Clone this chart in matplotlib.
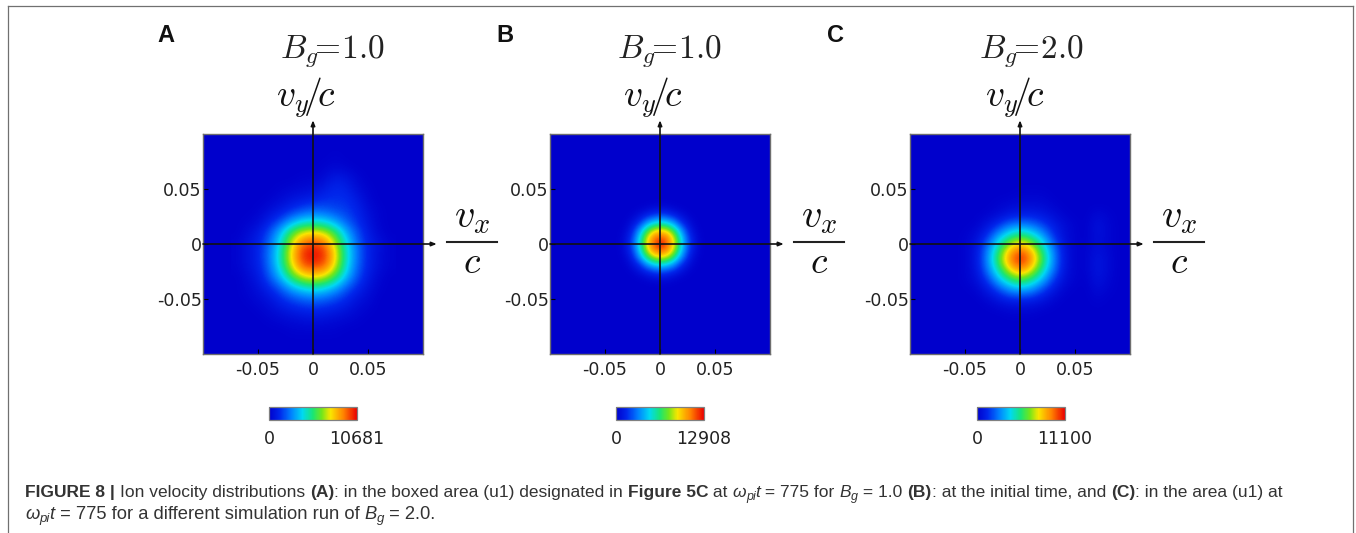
import numpy as np
import matplotlib
matplotlib.use("Agg")
import matplotlib.pyplot as plt
from matplotlib.colors import LinearSegmentedColormap

W, H = 1356, 533
plt.rcParams['mathtext.fontset'] = 'cm'

panel_letters = ["A", "B", "C"]
panel_titles = ["$B_g\\!\\!=\\!1.0$", "$B_g\\!\\!=\\!1.0$", "$B_g\\!\\!=\\!2.0$"]
max_counts = [10681, 12908, 11100]
ticks = [-0.05, 0, 0.05]
tick_labels = ["-0.05", "0", "0.05"]

# Distribution values, percent of each panel's maximum.
vx_a = [-0.07, -0.06, -0.05, -0.04, -0.03, -0.02, -0.01, 0, 0.01, 0.02, 0.03, 0.04, 0.05, 0.06, 0.07]
vy_a = [0.09, 0.08, 0.07, 0.06, 0.05, 0.04, 0.03, 0.02, 0.01, 0, -0.01, -0.02, -0.03, -0.04, -0.05, -0.06, -0.07, -0.08, -0.09]
dist_a = [
    [0, 0, 0, 0, 0, 0, 0, 0, 0, 0, 0, 0, 0, 0, 0],
    [0, 0, 0, 0, 0, 0, 0, 0, 0, 1, 0, 0, 0, 0, 0],
    [0, 0, 0, 0, 0, 0, 0, 0, 1, 2, 1, 0, 0, 0, 0],
    [0, 0, 0, 0, 0, 0, 1, 1, 3, 8, 6, 2, 0, 0, 0],
    [0, 0, 0, 0, 1, 2, 3, 4, 8, 12, 10, 4, 1, 0, 0],
    [0, 0, 0, 1, 3, 6, 8, 10, 13, 13, 13, 8, 2, 0, 0],
    [0, 0, 1, 4, 8, 13, 18, 21, 20, 17, 15, 11, 4, 1, 0],
    [0, 1, 3, 10, 18, 30, 38, 40, 38, 30, 20, 13, 6, 1, 0],
    [0, 3, 8, 18, 34, 55, 68, 72, 67, 53, 32, 18, 8, 2, 0],
    [1, 5, 10, 22, 40, 67, 88, 93, 88, 65, 40, 21, 10, 5, 1],
    [1, 5, 11, 24, 44, 72, 95, 100, 95, 72, 42, 23, 10, 4, 1],
    [1, 5, 10, 23, 42, 68, 90, 94, 90, 68, 41, 21, 10, 4, 1],
    [0, 3, 8, 19, 34, 54, 68, 73, 68, 54, 34, 18, 8, 2, 0],
    [0, 2, 5, 12, 20, 32, 40, 44, 40, 32, 20, 12, 5, 1, 0],
    [0, 1, 3, 6, 12, 17, 21, 23, 21, 17, 12, 6, 3, 0, 0],
    [0, 0, 1, 3, 6, 9, 11, 12, 11, 9, 6, 3, 1, 0, 0],
    [0, 0, 0, 1, 2, 3, 4, 5, 4, 3, 2, 1, 0, 0, 0],
    [0, 0, 0, 0, 0, 1, 1, 1, 1, 1, 0, 0, 0, 0, 0],
    [0, 0, 0, 0, 0, 0, 0, 0, 0, 0, 0, 0, 0, 0, 0],
]

vx_b = [-0.042, -0.036, -0.03, -0.024, -0.018, -0.012, -0.006, 0, 0.006, 0.012, 0.018, 0.024, 0.03, 0.036, 0.042]
vy_b = [0.042, 0.036, 0.03, 0.024, 0.018, 0.012, 0.006, 0, -0.006, -0.012, -0.018, -0.024, -0.03, -0.036, -0.042]
dist_b = [
    [0, 0, 0, 0, 0, 0, 0, 0, 0, 0, 0, 0, 0, 0, 0],
    [0, 0, 0, 0, 0, 0.5, 1, 1, 1, 0.5, 0, 0, 0, 0, 0],
    [0, 0, 0, 0.5, 2, 4, 7, 8, 7, 4, 2, 0.5, 0, 0, 0],
    [0, 0, 0.5, 3, 8, 15, 20, 23, 20, 15, 8, 3, 0.5, 0, 0],
    [0, 0, 2, 8, 18, 32, 41, 45, 41, 32, 18, 8, 2, 0, 0],
    [0, 0.5, 4, 15, 32, 52, 67, 72, 67, 52, 32, 15, 4, 0.5, 0],
    [0, 1, 7, 20, 41, 67, 84, 88, 84, 67, 41, 20, 7, 1, 0],
    [0, 1, 8, 23, 45, 72, 88, 100, 88, 72, 45, 23, 8, 1, 0],
    [0, 1, 7, 20, 41, 67, 84, 88, 84, 67, 41, 20, 7, 1, 0],
    [0, 0.5, 4, 15, 32, 52, 67, 72, 67, 52, 32, 15, 4, 0.5, 0],
    [0, 0, 2, 8, 18, 32, 41, 45, 41, 32, 18, 8, 2, 0, 0],
    [0, 0, 0.5, 3, 8, 15, 20, 23, 20, 15, 8, 3, 0.5, 0, 0],
    [0, 0, 0, 0.5, 2, 4, 7, 8, 7, 4, 2, 0.5, 0, 0, 0],
    [0, 0, 0, 0, 0, 0.5, 1, 1, 1, 0.5, 0, 0, 0, 0, 0],
    [0, 0, 0, 0, 0, 0, 0, 0, 0, 0, 0, 0, 0, 0, 0],
]

vx_c = [-0.06, -0.05, -0.04, -0.03, -0.02, -0.01, 0, 0.01, 0.02, 0.03, 0.04, 0.05, 0.06, 0.07, 0.08, 0.09]
vy_c = [0.057, 0.047, 0.037, 0.027, 0.017, 0.007, -0.003, -0.013, -0.023, -0.033, -0.043, -0.053, -0.063, -0.073]
dist_c = [
    [0, 0, 0, 0, 0, 0, 0, 0, 0, 0, 0, 0, 0, 0, 0, 0],
    [0, 0, 0, 0, 0, 0, 1, 1, 1, 0, 0, 0, 0, 0, 0, 0],
    [0, 0, 0, 0, 1, 2, 3, 3, 3, 1, 0, 0, 0, 0, 0, 0],
    [0, 0, 0, 1, 3, 7, 9, 9, 7, 4, 1, 0, 0, 3, 1, 0],
    [0, 0, 1, 6, 14, 24, 27, 24, 17, 9, 4, 1, 0, 6, 2, 0],
    [0, 1, 4, 14, 32, 46, 55, 46, 32, 14, 4, 1, 0, 5, 2, 0],
    [0, 1, 6, 24, 46, 71, 85, 71, 46, 24, 6, 1, 1, 5, 2, 0],
    [0, 1, 7, 27, 55, 85, 100, 85, 55, 27, 7, 1, 1, 7, 3, 0],
    [0, 1, 6, 24, 46, 71, 85, 71, 46, 24, 6, 1, 1, 7, 3, 0],
    [0, 1, 4, 14, 32, 46, 55, 46, 32, 14, 4, 1, 0, 6, 2, 0],
    [0, 0, 1, 6, 14, 24, 27, 24, 14, 6, 1, 0, 0, 3, 1, 0],
    [0, 0, 0, 1, 4, 6, 7, 6, 4, 1, 0, 0, 0, 1, 0, 0],
    [0, 0, 0, 0, 0, 1, 1, 1, 0, 0, 0, 0, 0, 0, 0, 0],
    [0, 0, 0, 0, 0, 0, 0, 0, 0, 0, 0, 0, 0, 0, 0, 0],
]

grids = [(vx_a, vy_a, dist_a), (vx_b, vy_b, dist_b), (vx_c, vy_c, dist_c)]

cmap = LinearSegmentedColormap.from_list("rb", [
    (0.00, (0.0, 0.0, 0.80)),
    (0.12, (0.0, 0.15, 0.92)),
    (0.25, (0.0, 0.50, 1.00)),
    (0.38, (0.0, 0.85, 0.95)),
    (0.50, (0.10, 0.90, 0.45)),
    (0.60, (0.45, 0.90, 0.10)),
    (0.70, (0.98, 0.90, 0.0)),
    (0.85, (1.0, 0.50, 0.0)),
    (1.00, (0.92, 0.0, 0.0)),
], N=256)

fig = plt.figure(figsize=(W / 100, H / 100), dpi=100, facecolor="white")


def fx(x):
    return x / W


def fy(y):
    return 1 - y / H


def px_axes(x0, y0, x1, y1):
    return fig.add_axes([fx(x0), fy(y1), (x1 - x0) / W, (y1 - y0) / H])


GRAY = "#6e6e6e"
# outer frame
for xs, ys in [((8, 8), (533, 6)), ((8, 1353), (6, 6)), ((1353, 1353), (6, 533))]:
    fig.add_artist(plt.Line2D([fx(v) for v in xs], [fy(v) for v in ys], color="#707070", lw=0.9))

panel_x = [203, 550, 910]
letter_x = [157, 496, 827]
cbar_x = [269, 616, 977]
title_x = [332, 669, 1031]
vy_x = [306, 653, 1015]

for i in range(3):
    x0 = panel_x[i]
    ax = px_axes(x0, 134, x0 + 220, 354)
    vx, vy, dist = grids[i]
    vals = np.array(dist, dtype=float) * max_counts[i] / 100
    dx = abs(vx[1] - vx[0])
    dy = abs(vy[1] - vy[0])
    ax.set_facecolor(cmap(0.0))
    im = ax.imshow(vals, cmap=cmap, vmin=0, vmax=max_counts[i], interpolation="bicubic",
                   origin="upper", aspect="auto",
                   extent=[vx[0] - dx / 2, vx[-1] + dx / 2, vy[-1] - dy / 2, vy[0] + dy / 2])
    ax.set_xlim(-0.1, 0.1)
    ax.set_ylim(-0.1, 0.1)
    ax.set_xticks(ticks, tick_labels)
    ax.set_yticks(ticks, tick_labels)
    ax.tick_params(direction="in", length=3.5, width=0.8, labelsize=12.5, pad=1,
                   colors="black", labelcolor="#222222")
    ax.tick_params(axis="x", pad=5)
    for s in ax.spines.values():
        s.set_color(GRAY)
        s.set_linewidth(1.0)

    ax.annotate("", xy=(0.1125, 0), xytext=(-0.1, 0), xycoords="data", annotation_clip=False,
                arrowprops=dict(arrowstyle="-|>,head_length=0.3,head_width=0.12", lw=1.2,
                                color="#111111", shrinkA=0, shrinkB=0))
    ax.annotate("", xy=(0, 0.1125), xytext=(0, -0.1), xycoords="data", annotation_clip=False,
                arrowprops=dict(arrowstyle="-|>,head_length=0.3,head_width=0.12", lw=1.2,
                                color="#111111", shrinkA=0, shrinkB=0))

    fig.text(fx(letter_x[i]), fy(42), panel_letters[i], family="Liberation Sans",
             weight="bold", fontsize=17, color="#111111", ha="left", va="baseline")
    fig.text(fx(title_x[i]), fy(57), panel_titles[i], fontsize=24, color="#222222",
             ha="center", va="baseline")
    fig.text(fx(vy_x[i]), fy(107), "$v_y\\!/\\!c$", fontsize=27, color="#111111",
             ha="center", va="baseline")

    fc = x0 + 269
    fig.text(fx(fc), fy(227), "$v_x$", fontsize=29, color="#111111", ha="center", va="baseline")
    fig.text(fx(fc), fy(273), "$c$", fontsize=27, color="#111111", ha="center", va="baseline")
    fig.add_artist(plt.Line2D([fx(fc - 25), fx(fc + 25)], [fy(241.5), fy(241.5)], color="#222222", lw=1.5))

    cax = px_axes(cbar_x[i], 407, cbar_x[i] + 88, 420)
    cb = fig.colorbar(im, cax=cax, orientation="horizontal")
    cb.set_ticks([0, max_counts[i]], labels=["0", str(max_counts[i])])
    cb.ax.tick_params(length=0, labelsize=12.5, pad=7, labelcolor="#222222")
    cb.outline.set_edgecolor("#808080")
    cb.outline.set_linewidth(0.9)

# caption, laid out piece by piece
CAP = "#333333"
line1 = [
    ("FIGURE 8 | ", "bold", "normal", 0, 1), ("Ion velocity distributions ", "normal", "normal", 0, 1),
    ("(A)", "bold", "normal", 0, 1), (": in the boxed area (u1) designated in ", "normal", "normal", 0, 1),
    ("Figure 5C", "bold", "normal", 0, 1), (" at ", "normal", "normal", 0, 1),
    ("ω", "normal", "italic", 0, 1), ("pi", "normal", "italic", 3, 0.72), ("t", "normal", "italic", 0, 1),
    (" = 775 for ", "normal", "normal", 0, 1), ("B", "normal", "italic", 0, 1), ("g", "normal", "italic", 3, 0.72),
    (" = 1.0 ", "normal", "normal", 0, 1), ("(B)", "bold", "normal", 0, 1),
    (": at the initial time, and ", "normal", "normal", 0, 1), ("(C)", "bold", "normal", 0, 1),
    (": in the area (u1) at", "normal", "normal", 0, 1),
]
line2 = [
    ("ω", "normal", "italic", 0, 1), ("pi", "normal", "italic", 3, 0.72), ("t", "normal", "italic", 0, 1),
    (" = 775 for a different simulation run of ", "normal", "normal", 0, 1),
    ("B", "normal", "italic", 0, 1), ("g", "normal", "italic", 3, 0.72), (" = 2.0.", "normal", "normal", 0, 1),
]


def lay(parts, x, y, size):
    renderer = fig.canvas.get_renderer()
    for s, w, st, d, k in parts:
        t = fig.text(fx(x), fy(y + d), s.replace(" ", "\u00a0"), family="Liberation Sans", weight=w, style=st,
                     fontsize=size * k, color=CAP, ha="left", va="baseline")
        x += t.get_window_extent(renderer).width


lay(line1, 25, 497, 12.52)
lay(line2, 25, 519, 13.28)

fig.savefig("out.png", dpi=100)
